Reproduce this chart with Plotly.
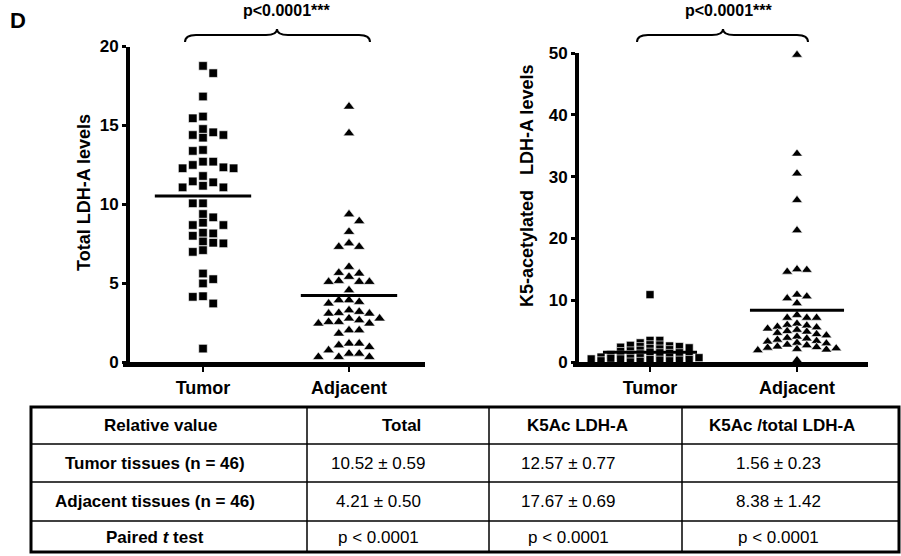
import plotly.graph_objects as go

# ---------------- data ----------------
categories = ["Tumor", "Adjacent"]

total_tumor = [18.77, 18.31, 16.83, 15.45, 15.56, 14.56, 14.39, 14.22, 14.39, 14.77,
               13.38, 13.44, 12.70, 12.28, 12.49, 12.70, 12.28, 12.34, 11.79, 11.39,
               11.07, 11.07, 11.17, 11.45, 10.06, 10.06, 9.38, 9.17, 8.83, 8.68,
               8.68, 8.19, 8.15, 7.52, 8.00, 7.64, 7.56, 6.98, 7.09, 5.61,
               4.98, 5.25, 4.13, 3.71, 4.17, 0.85]
total_adjacent = [16.19, 14.50, 9.36, 8.93, 8.25, 7.52, 7.30, 7.30, 6.03, 5.61,
                  5.40, 5.65, 5.14, 5.08, 5.08, 5.08, 4.55, 3.92, 3.71, 3.92,
                  3.81, 3.28, 3.11, 3.07, 3.07, 3.18, 2.76, 2.65, 2.54, 2.44,
                  2.44, 2.54, 2.76, 1.80, 2.01, 2.01, 1.17, 1.06, 0.95, 1.17,
                  0.53, 0.32, 0.32, 0.32, 0.53, 0.74]
ratio_tumor = [10.9, 3.5, 3.5, 3.1, 2.8, 2.75, 2.7, 2.6, 2.5, 2.5, 2.4,
               2.3, 2.2, 2.1, 2.0, 1.9, 1.8, 1.7, 1.6, 1.5, 1.5,
               1.4, 1.3, 1.2, 1.2, 1.1, 1.0, 1.0, 0.9, 0.9, 0.8,
               0.8, 0.7, 0.7, 0.6, 0.6, 0.5, 0.5, 0.4, 0.4, 0.3,
               0.3, 0.2, 0.2, 0.1, 0.0]
ratio_adjacent = [49.7, 33.7, 30.5, 26.2, 21.3, 14.9, 14.6, 15.0, 10.6, 9.5,
                  10.3, 10.9, 7.6, 7.15, 7.15, 7.15,
                  6.2, 6.0, 5.9, 5.7, 5.6, 5.4, 5.2, 5.0, 4.9, 4.7,
                  4.5, 4.3, 4.1, 3.9, 3.8, 3.6, 3.4, 3.3, 3.1, 3.0,
                  2.8, 2.7, 2.5, 2.4, 2.3, 2.2, 2.1, 2.0, 1.9, 0.3]
total_means = [10.52, 4.21]
ratio_means = [1.56, 8.38]

left_ticks = [0, 5, 10, 15, 20]
right_ticks = [0, 10, 20, 30, 40, 50]
left_title = "Total LDH-A levels"
right_title = "K5-acetylated\u00a0\u00a0 LDH-A levels"
p_label = "p<0.0001***"
panel_label = "D"

table_header = ["Relative value", "Total", "K5Ac LDH-A", "K5Ac /total LDH-A"]
row_labels = ["Tumor tissues (n = 46)", "Adjacent tissues (n = 46)", "Paired <i>t</i> test"]
total_col = ["10.52 ± 0.59", "4.21 ± 0.50", "p < 0.0001"]
k5ac_col = ["12.57 ± 0.77", "17.67 ± 0.69", "p < 0.0001"]
ratio_col = ["1.56 ± 0.23", "8.38 ± 1.42", "p < 0.0001"]

# ---------------- helpers ----------------
W, H = 901, 556
FONT = "Liberation Sans, Arial, sans-serif"
black = "black"


def PX(x):
    return x / W


def PY(y):
    return 1 - y / H


def swarm(values, unit_px, min_dy):
    """GraphPad-like column scatter: integer column offsets computed from values."""
    n = len(values)
    order = sorted(range(n), key=lambda i: -values[i])
    placed = []
    ks = [0] * n
    side = 1
    for i in order:
        y = values[i] * unit_px
        cands = [0]
        for d in range(1, 15):
            cands += [d * side, -d * side]
        for k in cands:
            if all(not (pk == k and abs(pyv - y) < min_dy) for pk, pyv in placed):
                break
        if k != 0:
            side = -side
        ks[i] = k
        placed.append((k, y))
    return ks


# pixel geometry of the two panels
L_X0, L_X1, L_YAX = 123, 425, 128
L_Y0, L_YTOP = 362, 46.5
L_CAT = (203, 349)
R_X0, R_X1, R_YAX = 573, 868, 577
R_Y0, R_YTOP = 362, 53
R_CAT = (650, 797)

l_xunit = L_CAT[1] - L_CAT[0]
r_xunit = R_CAT[1] - R_CAT[0]
l_yunit = (L_Y0 - L_YTOP) / 20
r_yunit = (R_Y0 - R_YTOP) / 50

fig = go.Figure()


def add_group(vals, cat_idx, symbol, size, xa, ya, unit_px, xunit, min_dy, step_px=10.2):
    ks = swarm(vals, unit_px, min_dy)
    xs = [cat_idx + k * step_px / xunit for k in ks]
    fig.add_trace(go.Scatter(
        x=xs, y=vals, mode="markers", xaxis=xa, yaxis=ya, cliponaxis=False,
        marker=dict(symbol=symbol, size=size, color=black,
                    line=dict(color="white", width=0.6)),
        hoverinfo="y", showlegend=False))


add_group(total_tumor, 0, "square", 8.5, "x", "y", l_yunit, l_xunit, 8.5)
add_group(total_adjacent, 1, "triangle-up", 10, "x", "y", l_yunit, l_xunit, 8.0)
add_group(ratio_tumor, 0, "square", 8, "x2", "y2", r_yunit, r_xunit, 3.6, 9.8)
add_group(ratio_adjacent, 1, "triangle-up", 9.5, "x2", "y2", r_yunit, r_xunit, 6.0, 9.8)

for i, m in enumerate(total_means):
    fig.add_trace(go.Scatter(x=[i - 0.33, i + 0.33], y=[m, m], mode="lines",
                             xaxis="x", yaxis="y", line=dict(color=black, width=3),
                             hoverinfo="skip", showlegend=False))
for i, m in enumerate(ratio_means):
    fig.add_trace(go.Scatter(x=[i - 0.32, i + 0.32], y=[m, m], mode="lines",
                             xaxis="x2", yaxis="y2", line=dict(color=black, width=3),
                             hoverinfo="skip", showlegend=False))

# ---------------- axes ----------------
tickfont = dict(family=FONT, size=17, color=black, weight="bold")
catfont = dict(family=FONT, size=18, color=black, weight="bold")


def xaxis_cfg(x0, x1, cat, xunit, anchor):
    return dict(domain=[PX(x0), PX(x1)],
                range=[(x0 - cat[0]) / xunit, (x1 - cat[0]) / xunit],
                tickvals=[0, 1], ticktext=categories, tickfont=catfont,
                ticks="outside", ticklen=5, tickwidth=2, tickcolor=black,
                showline=True, linewidth=5, linecolor=black, automargin=False,
                showgrid=False, zeroline=False, anchor=anchor, fixedrange=True)


def yaxis_cfg(y0, ytop, xpos, top, tickv):
    return dict(domain=[PY(y0), PY(ytop)], range=[0, top], tickvals=tickv,
                tickfont=tickfont, ticks="outside", ticklen=4, tickwidth=3,
                tickcolor=black, showline=True, linewidth=4, linecolor=black,
                showgrid=False, zeroline=False, anchor="free", position=PX(xpos),
                automargin=False, fixedrange=True)


fig.update_layout(
    width=W, height=H,
    margin=dict(l=0, r=0, t=0, b=0, pad=0, autoexpand=False),
    paper_bgcolor="white", plot_bgcolor="white", showlegend=False,
    font=dict(family=FONT, color=black),
    xaxis=xaxis_cfg(L_X0, L_X1, L_CAT, l_xunit, "y"),
    yaxis=yaxis_cfg(L_Y0, L_YTOP, L_YAX, 20, left_ticks),
    xaxis2=xaxis_cfg(R_X0, R_X1, R_CAT, r_xunit, "y2"),
    yaxis2=yaxis_cfg(R_Y0, R_YTOP, R_YAX, 50, right_ticks),
)


def note(x, y, text, size, bold=False, angle=0, xanchor="center"):
    fig.add_annotation(x=PX(x), y=PY(y), xref="paper", yref="paper",
                       xanchor=xanchor, yanchor="middle", textangle=angle,
                       text=("<b>%s</b>" % text) if bold else text, showarrow=False,
                       font=dict(family=FONT, size=size, color=black))


# axis titles
note(84, 193, left_title, 18, bold=True, angle=-90)
note(527, 186, right_title, 18, bold=True, angle=-90)


# ---------------- braces, labels ----------------
def brace(x0, x1, xt, ytip=29, ymid=35, yend=42, r=11):
    pts = [
        ("M", [(x0, yend)]),
        ("Q", [(x0, ymid), (x0 + r, ymid)]),
        ("L", [(xt - r, ymid)]),
        ("Q", [(xt, ymid), (xt, ytip)]),
        ("Q", [(xt, ymid), (xt + r, ymid)]),
        ("L", [(x1 - r, ymid)]),
        ("Q", [(x1, ymid), (x1, yend)]),
    ]
    s = ""
    for cmd, ps in pts:
        s += cmd + " ".join("%.5f,%.5f" % (PX(a), PY(b)) for a, b in ps) + " "
    return s.strip()


for (x0, x1, xt) in [(185, 370, 277), (637, 808, 723)]:
    fig.add_shape(type="path", path=brace(x0, x1, xt), xref="paper", yref="paper",
                  line=dict(color=black, width=2))

for xc in (287, 729):
    note(xc, 11, p_label, 16, bold=True)

note(8, 20, panel_label, 22, bold=True, xanchor="left")

# ---------------- table ----------------
T_X0, T_X1, T_Y0, T_Y1 = 31, 899, 407, 552
col_lines = [307, 489, 682]
row_lines = [444, 482, 521]
header_x = [160, 401, 577, 782]
cell_x = [155, 378, 568, 778]
header_y = 425
row_y = [463, 501, 537]

fig.add_shape(type="rect", x0=PX(T_X0), x1=PX(T_X1), y0=PY(T_Y1), y1=PY(T_Y0),
              xref="paper", yref="paper", line=dict(color=black, width=3))
for cx in col_lines:
    fig.add_shape(type="line", x0=PX(cx), x1=PX(cx), y0=PY(T_Y1), y1=PY(T_Y0),
                  xref="paper", yref="paper", line=dict(color=black, width=1.5))
for ry in row_lines:
    fig.add_shape(type="line", x0=PX(T_X0), x1=PX(T_X1), y0=PY(ry), y1=PY(ry),
                  xref="paper", yref="paper", line=dict(color=black, width=1.5))

for j, h in enumerate(table_header):
    note(header_x[j], header_y, h, 17, bold=True)
columns = [row_labels, total_col, k5ac_col, ratio_col]
for j, col in enumerate(columns):
    for i, txt in enumerate(col):
        note(cell_x[j], row_y[i], txt, 17, bold=(j == 0))

# the page body has a default 8px margin; remove it so the figure sits at (0, 0)
fig.write_html("out.html", config={"displayModeBar": False},
               post_script="document.body.style.margin='0px';")
